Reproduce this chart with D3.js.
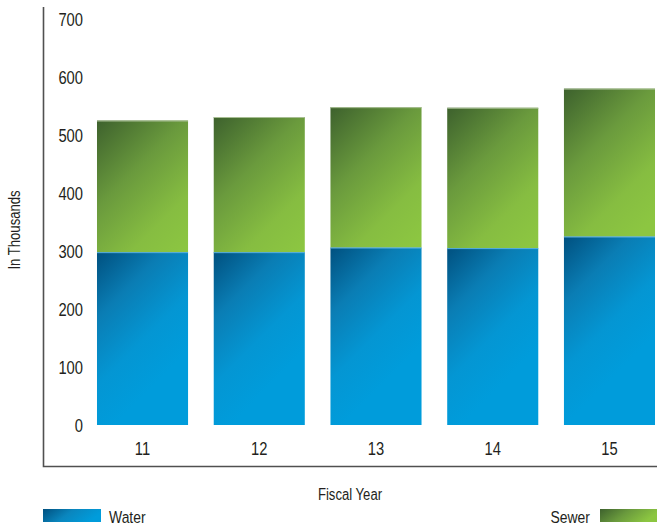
<!DOCTYPE html>
<html><head><meta charset="utf-8">
<script src="https://cdn.jsdelivr.net/npm/d3@7"></script>
<style>
html,body{margin:0;padding:0;background:#fff;}
svg text{font-family:"Liberation Sans","Arial",sans-serif;fill:#231f20;}
</style></head>
<body><svg id="c" width="657" height="529"></svg>
<script>
const years = ["11","12","13","14","15"];
const water = [298, 298, 306, 305, 325];
const sewer = [227, 233, 242, 242, 255];
const yTicks = [0,100,200,300,400,500,600,700];
const seriesNames = ["Water","Sewer"];

const SX = 0.82;
const svg = d3.select("#c");
const defs = svg.append("defs");
const waterStops = [[0,"#00507f"],[0.35,"#0a7db4"],[0.7,"#0496d3"],[1,"#009cdb"]];
const sewerStops = [[0,"#3d612d"],[0.4,"#6a9a3d"],[0.75,"#86bd41"],[1,"#8cc641"]];
function grad(id, stops, x1, y1, x2, y2, user){
  const g = defs.append("linearGradient").attr("id", id)
    .attr("x1",x1).attr("y1",y1).attr("x2",x2).attr("y2",y2);
  if (user) g.attr("gradientUnits","userSpaceOnUse");
  stops.forEach(s=>g.append("stop").attr("offset",s[0]).attr("stop-color",s[1]));
}
grad("gWaterL",[[0,"#00507f"],[0.5,"#0a86be"],[1,"#009cdb"]],0,0,1,0.3);
grad("gSewerL",[[0,"#3d612d"],[0.5,"#6a9a3d"],[1,"#8cc641"]],0,0,1,0.3);

const x = d3.scaleBand().domain(years).range([43,709]).paddingInner(0.22).paddingOuter(0.4625);
const y = d3.scaleLinear().domain([0,700]).range([425,19]);

// bars
const g = svg.append("g");
years.forEach((yr,i)=>{
  const x0 = x(yr), w = x.bandwidth();
  const wt = y(water[i]), st = y(water[i]+sewer[i]);
  grad("gw"+i, waterStops, x0, wt, x0+95, wt+95, true);
  grad("gs"+i, sewerStops, x0, st, x0+110, st+110, true);
  g.append("rect").attr("x",x0).attr("y",wt).attr("width",w)
    .attr("height",y(0)-wt).attr("fill",`url(#gw${i})`);
  g.append("rect").attr("x",x0).attr("y",st).attr("width",w)
    .attr("height",wt-st).attr("fill",`url(#gs${i})`);
  g.append("line").attr("x1",x0).attr("x2",x0+w).attr("y1",st+0.5).attr("y2",st+0.5)
    .attr("stroke","#a9bf95").attr("stroke-width",1);
  g.append("line").attr("x1",x0).attr("x2",x0+w).attr("y1",wt+0.5).attr("y2",wt+0.5)
    .attr("stroke","#5ab0dd").attr("stroke-width",1);
});

// y tick labels
const yAxis = d3.axisLeft(y).tickValues(yTicks).tickSize(0).tickPadding(0);
const ya = svg.append("g").attr("transform","translate(83,0)").call(yAxis);
ya.select(".domain").remove();
ya.selectAll("text").attr("font-size",18).attr("font-family",null).attr("fill",null)
  .attr("x",0).attr("dy","0.35em").attr("transform",`scale(${SX},1)`);

// x tick labels
const xAxis = d3.axisBottom(x).tickSize(0).tickPadding(0);
const xa = svg.append("g").attr("transform","translate(0,442)").call(xAxis);
xa.select(".domain").remove();
xa.selectAll("text").attr("font-size",18).attr("font-family",null).attr("fill",null)
  .attr("dy","0.71em").attr("transform",`scale(${SX},1)`);

// axis frame lines
svg.append("path").attr("d","M43.5,7V466.5H657").attr("fill","none").attr("stroke","#505050").attr("stroke-width",1.6);

// axis titles
svg.append("text").attr("transform",`translate(20,230) rotate(-90) scale(${SX},1)`).attr("text-anchor","middle")
  .attr("font-size",16).text("In Thousands");
svg.append("text").attr("transform",`translate(350,500) scale(${SX},1)`).attr("text-anchor","middle").attr("font-size",16).text("Fiscal Year");

// legend
svg.append("rect").attr("x",43).attr("y",509).attr("width",58).attr("height",13).attr("fill","url(#gWaterL)");
svg.append("text").attr("transform",`translate(109,523) scale(${SX},1)`).attr("font-size",17).text(seriesNames[0]);
svg.append("rect").attr("x",600).attr("y",509).attr("width",57).attr("height",13).attr("fill","url(#gSewerL)");
svg.append("text").attr("transform",`translate(590,523) scale(${SX},1)`).attr("text-anchor","end").attr("font-size",17).text(seriesNames[1]);
</script></body></html>
